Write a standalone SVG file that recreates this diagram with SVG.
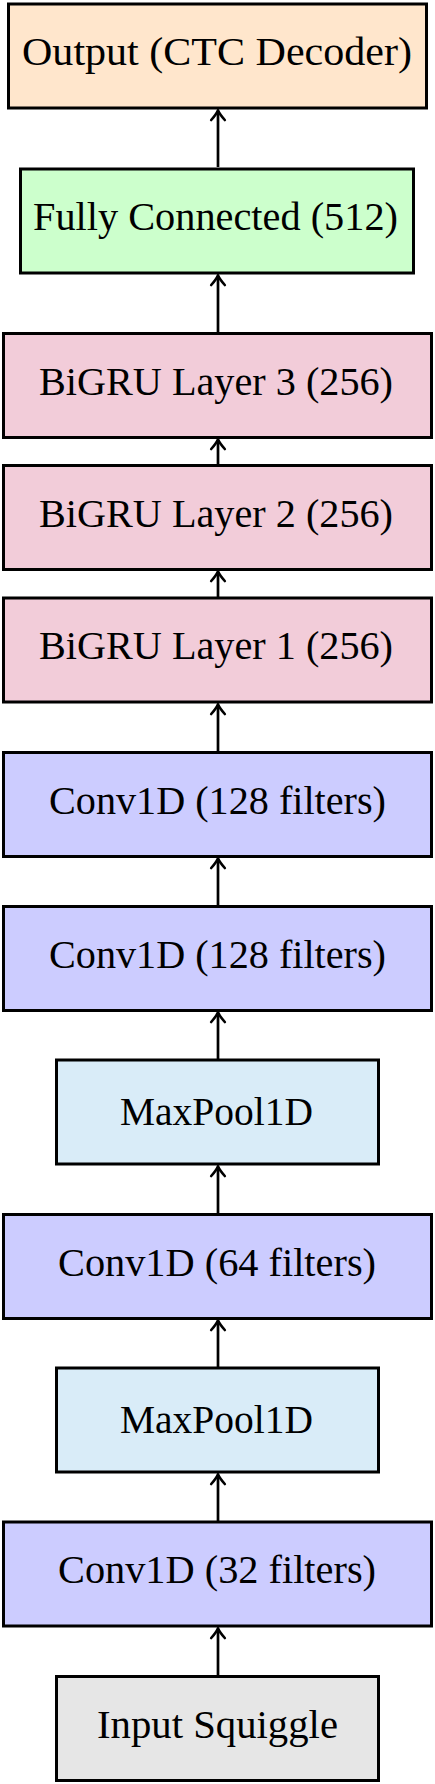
<svg xmlns="http://www.w3.org/2000/svg" width="435" height="1784" viewBox="0 0 435 1784">
<defs>
<style>
.box{stroke:#000;stroke-width:3}
.lbl{font-family:"Liberation Serif","Times New Roman",serif;font-size:39px;fill:#000;text-anchor:middle}
.out{fill:#FFE6CC}.fc{fill:#CCFFCC}.gru{fill:#F2CCD9}.conv{fill:#CCCCFF}.pool{fill:#D9ECF8}.inp{fill:#E6E6E6}
.conn{stroke:#000;stroke-width:2.7;fill:none}
</style>
<marker id="ah" markerUnits="userSpaceOnUse" viewBox="-11 -8 13 16" markerWidth="13" markerHeight="16" refX="0" refY="0" orient="auto" overflow="visible">
<path d="M -9 -6.8 Q -3 -1.5 0.8 0 Q -3 1.5 -9 6.8" fill="none" stroke="#000" stroke-width="2.6" stroke-linecap="round" stroke-linejoin="round"/>
</marker>
</defs>
<rect width="435" height="1784" fill="#fff"/>
<g id="connectors">
<line class="conn" x1="218" y1="167" x2="218" y2="111" marker-end="url(#ah)"/>
<line class="conn" x1="218" y1="332" x2="218" y2="276" marker-end="url(#ah)"/>
<line class="conn" x1="218" y1="464" x2="218" y2="440" marker-end="url(#ah)"/>
<line class="conn" x1="218" y1="597" x2="218" y2="572" marker-end="url(#ah)"/>
<line class="conn" x1="218" y1="751" x2="218" y2="705" marker-end="url(#ah)"/>
<line class="conn" x1="218" y1="905" x2="218" y2="859" marker-end="url(#ah)"/>
<line class="conn" x1="218" y1="1059" x2="218" y2="1013" marker-end="url(#ah)"/>
<line class="conn" x1="218" y1="1213" x2="218" y2="1167" marker-end="url(#ah)"/>
<line class="conn" x1="218" y1="1367" x2="218" y2="1321" marker-end="url(#ah)"/>
<line class="conn" x1="218" y1="1521" x2="218" y2="1475" marker-end="url(#ah)"/>
<line class="conn" x1="218" y1="1675" x2="218" y2="1629" marker-end="url(#ah)"/>
</g>
<g id="output"><rect class="box out" x="8.5" y="4" width="418" height="104"/><text class="lbl" x="217" y="65" textLength="390" lengthAdjust="spacingAndGlyphs">Output (CTC Decoder)</text></g>
<g id="fc"><rect class="box fc" x="20.5" y="169" width="393" height="104"/><text class="lbl" x="215.5" y="230" textLength="365" lengthAdjust="spacingAndGlyphs">Fully Connected (512)</text></g>
<g id="bigru3"><rect class="box gru" x="3.5" y="333.5" width="428" height="104"/><text class="lbl" x="216" y="394.5" textLength="354" lengthAdjust="spacingAndGlyphs">BiGRU Layer 3 (256)</text></g>
<g id="bigru2"><rect class="box gru" x="3.5" y="465.5" width="428" height="104"/><text class="lbl" x="216" y="526.5" textLength="354" lengthAdjust="spacingAndGlyphs">BiGRU Layer 2 (256)</text></g>
<g id="bigru1"><rect class="box gru" x="3.5" y="598" width="428" height="104"/><text class="lbl" x="216" y="659" textLength="354" lengthAdjust="spacingAndGlyphs">BiGRU Layer 1 (256)</text></g>
<g id="conv128a"><rect class="box conv" x="3.5" y="752.5" width="428" height="104"/><text class="lbl" x="217.5" y="813.5" textLength="337" lengthAdjust="spacingAndGlyphs">Conv1D (128 filters)</text></g>
<g id="conv128b"><rect class="box conv" x="3.5" y="906.5" width="428" height="104"/><text class="lbl" x="217.5" y="967.5" textLength="337" lengthAdjust="spacingAndGlyphs">Conv1D (128 filters)</text></g>
<g id="maxpool2"><rect class="box pool" x="56.5" y="1060" width="322" height="104"/><text class="lbl" x="216.5" y="1125" textLength="193" lengthAdjust="spacingAndGlyphs">MaxPool1D</text></g>
<g id="conv64"><rect class="box conv" x="3.5" y="1214.5" width="428" height="104"/><text class="lbl" x="217" y="1276" textLength="318" lengthAdjust="spacingAndGlyphs">Conv1D (64 filters)</text></g>
<g id="maxpool1"><rect class="box pool" x="56.5" y="1368" width="322" height="104"/><text class="lbl" x="216.5" y="1433" textLength="193" lengthAdjust="spacingAndGlyphs">MaxPool1D</text></g>
<g id="conv32"><rect class="box conv" x="3.5" y="1522" width="428" height="104"/><text class="lbl" x="217" y="1583" textLength="318" lengthAdjust="spacingAndGlyphs">Conv1D (32 filters)</text></g>
<g id="input"><rect class="box inp" x="56.5" y="1676.5" width="322" height="104"/><text class="lbl" x="217.5" y="1738" textLength="241" lengthAdjust="spacingAndGlyphs">Input Squiggle</text></g>
</svg>
